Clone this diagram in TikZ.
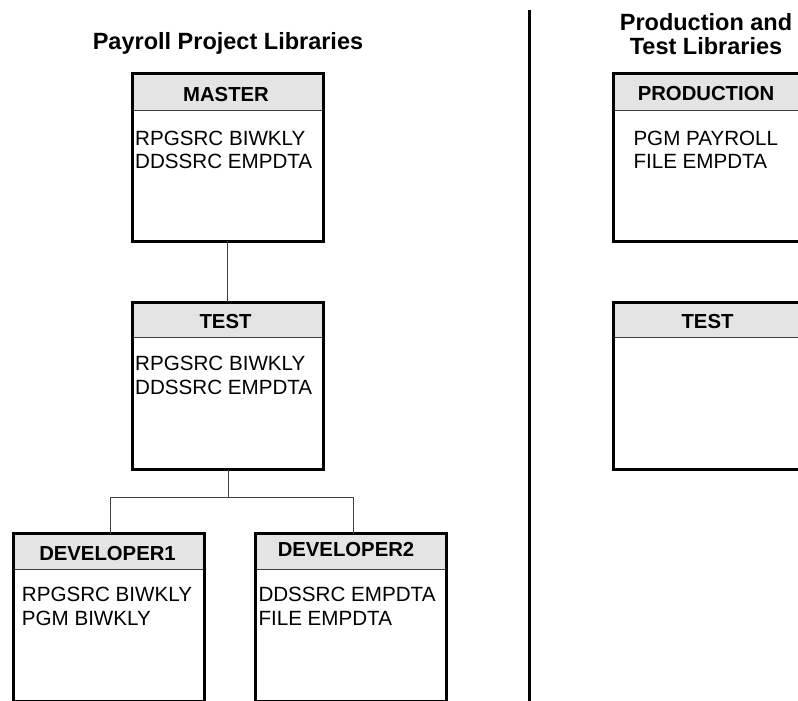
\documentclass[tikz,border=0pt]{standalone}
\usepackage{fontspec}
\setmainfont{Liberation Sans}
\definecolor{hdrgray}{HTML}{E4E4E4}
\definecolor{linegray}{HTML}{404040}
\tikzset{
  libbox/.style={draw=black, line width=3pt},
  hdrfill/.style={fill=hdrgray},
  hdrsep/.style={draw=linegray, line width=1pt},
  hdrtext/.style={font=\bfseries\fontsize{20.3}{24}\selectfont, inner sep=0pt, anchor=base},
  bodytext/.style={font=\fontsize{20.6}{23.5}\selectfont, inner sep=0pt, anchor=base west},
  titletext/.style={font=\bfseries\fontsize{23.5}{25}\selectfont, inner sep=0pt, anchor=base},
  conn/.style={draw=linegray, line width=1pt},
  divider/.style={draw=black, line width=3pt}
}
\begin{document}
\begin{tikzpicture}[x=1pt,y=-1pt]
\useasboundingbox (0,0) rectangle (798,701);
% titles
\node[titletext] (t1) at (228,49.5) {Payroll Project Libraries};
\node[titletext] (t2a) at (706,30.5) {Production and};
\node[titletext] (t2b) at (706,55) {Test Libraries};
% divider
\coordinate (dtop) at (529.5,10);
\coordinate (dbot) at (529.5,705);
\draw[divider] (dtop) -- (dbot);
% MASTER
\fill[hdrfill] (132,73.7) rectangle (323.3,110);
\draw[hdrsep] (132,110) -- (323.3,110);
\node[libbox, inner sep=0pt, outer sep=0pt, anchor=north west, minimum width=191.3pt, minimum height=167.6pt] (master) at (132,73.7) {};
\node[hdrtext] (masterh) at (226,101) {MASTER};
\node[bodytext] (masterb1) at (135,145) {RPGSRC BIWKLY};
\node[bodytext] (masterb2) at (135,168.5) {DDSSRC EMPDTA};
% TEST (project)
\fill[hdrfill] (132,302) rectangle (323.3,337.3);
\draw[hdrsep] (132,337.3) -- (323.3,337.3);
\node[libbox, inner sep=0pt, outer sep=0pt, anchor=north west, minimum width=191.3pt, minimum height=167.5pt] (test) at (132,302) {};
\node[hdrtext] (testh) at (225.5,328.3) {TEST};
\node[bodytext] (testb1) at (135,370) {RPGSRC BIWKLY};
\node[bodytext] (testb2) at (135,394) {DDSSRC EMPDTA};
% DEVELOPER1
\fill[hdrfill] (13.5,533.5) rectangle (204.2,569.3);
\draw[hdrsep] (13.5,569.3) -- (204.2,569.3);
\node[libbox, inner sep=0pt, outer sep=0pt, anchor=north west, minimum width=190.7pt, minimum height=168pt] (dev1) at (13.5,533.5) {};
\node[hdrtext] (dev1h) at (107.5,560) {DEVELOPER1};
\node[bodytext] (dev1b1) at (21.7,601.7) {RPGSRC BIWKLY};
\node[bodytext] (dev1b2) at (21.7,625) {PGM BIWKLY};
% DEVELOPER2
\fill[hdrfill] (255.3,533.5) rectangle (446.3,569.3);
\draw[hdrsep] (255.3,569.3) -- (446.3,569.3);
\node[libbox, inner sep=0pt, outer sep=0pt, anchor=north west, minimum width=191pt, minimum height=168pt] (dev2) at (255.3,533.5) {};
\node[hdrtext] (dev2h) at (346,556.7) {DEVELOPER2};
\node[bodytext] (dev2b1) at (258.3,601.7) {DDSSRC EMPDTA};
\node[bodytext] (dev2b2) at (258.3,625) {FILE EMPDTA};
% PRODUCTION
\fill[hdrfill] (613,73.7) rectangle (802,110);
\draw[hdrsep] (613,110) -- (802,110);
\node[libbox, inner sep=0pt, outer sep=0pt, anchor=north west, minimum width=189pt, minimum height=167.6pt] (prod) at (613,73.7) {};
\node[hdrtext] (prodh) at (706,100.5) {PRODUCTION};
\node[bodytext] (prodb1) at (633.3,145) {PGM PAYROLL};
\node[bodytext] (prodb2) at (633.3,168.5) {FILE EMPDTA};
% TEST (production side)
\fill[hdrfill] (613,302) rectangle (802,337.3);
\draw[hdrsep] (613,337.3) -- (802,337.3);
\node[libbox, inner sep=0pt, outer sep=0pt, anchor=north west, minimum width=189pt, minimum height=167.5pt] (ptest) at (613,302) {};
\node[hdrtext] (ptesth) at (707.5,328.3) {TEST};
% connectors
\draw[conn] (master.south) -- (test.north);
\coordinate (jc) at (228.5,497);
\coordinate (jl) at (110,497);
\coordinate (jr) at (353,497);
\draw[conn] (test.south -| jc) -- (jc);
\draw[conn] (jl |- dev1.north) -- (jl) -- (jr) -- (jr |- dev2.north);
\end{tikzpicture}
\end{document}
